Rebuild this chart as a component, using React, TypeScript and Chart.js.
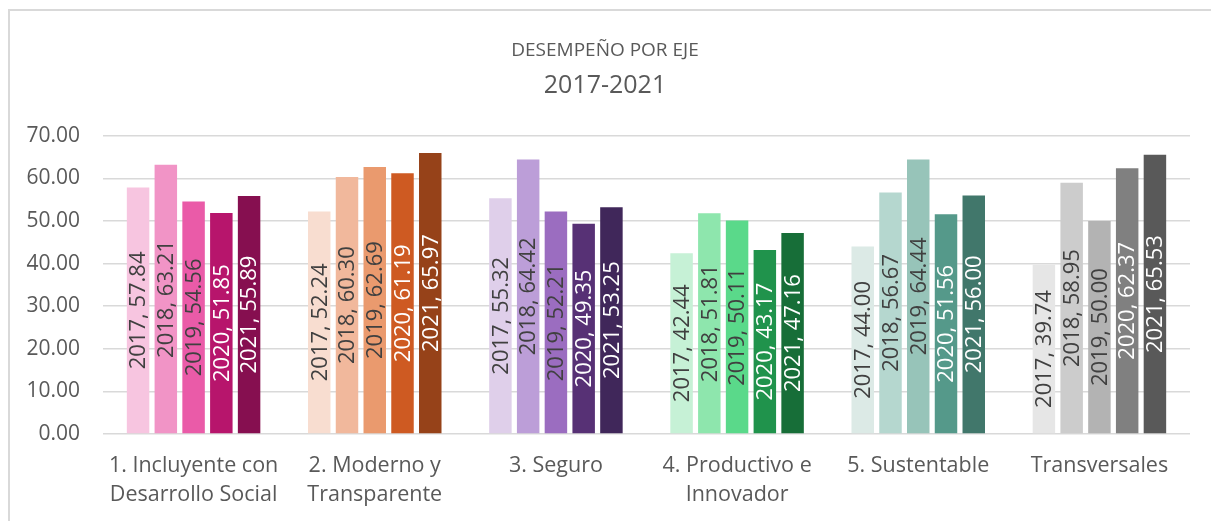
import React, { useEffect, useRef } from "react";
import { Chart, registerables } from "chart.js";

Chart.register(...registerables);

const categories: string[][] = [
  ["1. Incluyente con", "Desarrollo Social"],
  ["2. Moderno y", "Transparente"],
  ["3. Seguro"],
  ["4. Productivo e", "Innovador"],
  ["5. Sustentable"],
  ["Transversales"],
];

const years = ["2017", "2018", "2019", "2020", "2021"];

const values2017 = [57.84, 52.24, 55.32, 42.44, 44.0, 39.74];
const values2018 = [63.21, 60.3, 64.42, 51.81, 56.67, 58.95];
const values2019 = [54.56, 62.69, 52.21, 50.11, 64.44, 50.0];
const values2020 = [51.85, 61.19, 49.35, 43.17, 51.56, 62.37];
const values2021 = [55.89, 65.97, 53.25, 47.16, 56.0, 65.53];

const colors2017 = ["#F7C5E0", "#F8DDD0", "#DFCFEA", "#C6F1D6", "#DCEAE6", "#E6E6E6"];
const colors2018 = ["#F194C6", "#F1B89C", "#BC9ED8", "#8EE6AD", "#B5D7CF", "#CCCCCC"];
const colors2019 = ["#EA5BA8", "#EA9A6E", "#9B6DC0", "#5AD98A", "#97C4B9", "#B3B3B3"];
const colors2020 = ["#B7156C", "#CE5A22", "#573175", "#20934C", "#55998A", "#808080"];
const colors2021 = ["#860F50", "#964219", "#40275A", "#176E38", "#41776B", "#595959"];

const labelColors = ["#404040", "#404040", "#404040", "#FFFFFF", "#FFFFFF"];

const yTicks = [0, 10, 20, 30, 40, 50, 60, 70];

const FONT = "'Open Sans', 'DejaVu Sans', sans-serif";

const barLabelPlugin = {
  id: "barLabels",
  afterDatasetsDraw(chart: any) {
    const ctx = chart.ctx;
    chart.data.datasets.forEach((ds: any, di: number) => {
      const meta = chart.getDatasetMeta(di);
      meta.data.forEach((el: any, i: number) => {
        const v = ds.data[i] as number;
        const cy = (el.y + el.base) / 2;
        ctx.save();
        ctx.translate(el.x, cy);
        ctx.rotate(-Math.PI / 2);
        ctx.font = `22px ${FONT}`;
        ctx.fillStyle = labelColors[di];
        ctx.textAlign = "center";
        ctx.textBaseline = "middle";
        ctx.fillText(`${years[di]}, ${v.toFixed(2)}`, 0, 1);
        ctx.restore();
      });
    });
  },
};

export default function App() {
  const ref = useRef<HTMLCanvasElement>(null);
  useEffect(() => {
    if (!ref.current) return;
    const seriesValues = [values2017, values2018, values2019, values2020, values2021];
    const seriesColors = [colors2017, colors2018, colors2019, colors2020, colors2021];
    const chart = new Chart(ref.current, {
      type: "bar",
      data: {
        labels: categories,
        datasets: years.map((y, i) => ({
          label: y,
          data: seriesValues[i],
          backgroundColor: seriesColors[i],
          borderWidth: 0,
          categoryPercentage: 0.766,
          barPercentage: 0.81,
        })),
      },
      options: {
        responsive: false,
        animation: false,
        layout: { padding: { left: 20, right: 21, top: 0, bottom: 12 } },
        plugins: {
          legend: { display: false },
          tooltip: { enabled: false },
          title: {
            display: true,
            text: "DESEMPEÑO POR EJE",
            color: "#595959",
            font: { family: FONT, size: 19, weight: "normal", lineHeight: 1.2 },
            padding: { top: 39, bottom: 0 },
          },
          subtitle: {
            display: true,
            text: "2017-2021",
            color: "#595959",
            font: { family: FONT, size: 25, weight: "normal", lineHeight: 1.2 },
            padding: { top: 9, bottom: 35 },
          },
        },
        scales: {
          x: {
            afterFit: (scale: any) => {
              scale.height = 75;
            },
            grid: { display: false, drawTicks: false },
            border: { display: false },
            ticks: {
              color: "#595959",
              font: { family: FONT, size: 21.5, lineHeight: 1.35 },
              padding: 17,
              maxRotation: 0,
              autoSkip: false,
            },
          },
          y: {
            min: 0,
            max: 70,
            afterFit: (scale: any) => {
              scale.width = 83;
            },
            afterBuildTicks: (scale: any) => {
              scale.ticks = yTicks.map((v) => ({ value: v }));
            },
            grid: { color: "#D9D9D9", lineWidth: 1.5, drawTicks: false },
            border: { display: false },
            ticks: {
              color: "#595959",
              font: { family: FONT, size: 21 },
              padding: 23,
              callback: (v: any) => Number(v).toFixed(2),
            },
          },
        },
      },
      plugins: [barLabelPlugin],
    });
    return () => chart.destroy();
  }, []);

  return (
    <div
      style={{
        position: "absolute",
        left: 0,
        top: 0,
        width: 1211,
        height: 521,
        overflow: "hidden",
        background: "#FFFFFF",
      }}
    >
      <div
        style={{
          position: "absolute",
          left: 8,
          top: 9,
          width: 1300,
          height: 600,
          border: "2px solid #D9D9D9",
          boxSizing: "border-box",
        }}
      />
      <canvas
        ref={ref}
        width={1211}
        height={521}
        style={{ position: "absolute", left: 0, top: 0 }}
      />
    </div>
  );
}
